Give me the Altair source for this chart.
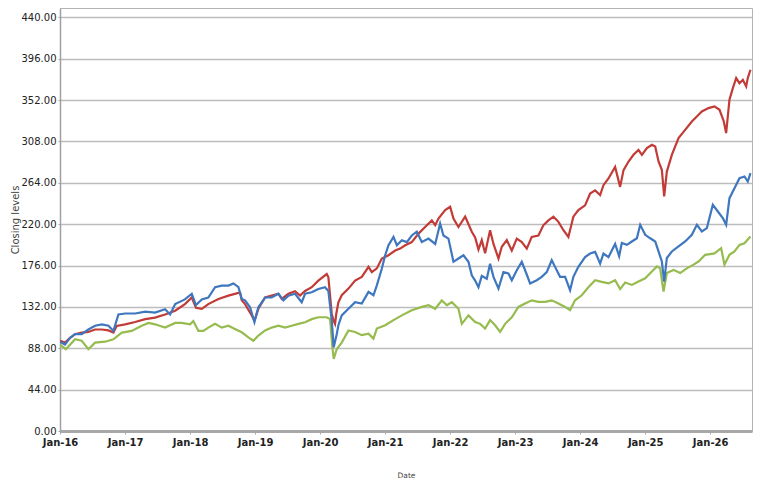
import altair as alt
import pandas as pd

# ---- data (decimal year, closing level) ----
red_t = [2016.0, 2016.077, 2016.154, 2016.231, 2016.333, 2016.436, 2016.538, 2016.641, 2016.744, 2016.82,
         2016.87, 2017.0, 2017.154, 2017.31, 2017.46, 2017.615, 2017.77, 2017.92, 2018.026, 2018.09,
         2018.18, 2018.28, 2018.436, 2018.59, 2018.744, 2018.77, 2018.795, 2018.846, 2018.949, 2018.99,
         2019.051, 2019.154, 2019.256, 2019.359, 2019.41, 2019.513, 2019.615, 2019.692, 2019.77, 2019.872,
         2019.974, 2020.103, 2020.128, 2020.18, 2020.205, 2020.23, 2020.25, 2020.282, 2020.333, 2020.436,
         2020.538, 2020.641, 2020.744, 2020.795, 2020.872, 2020.949, 2021.051, 2021.154, 2021.231, 2021.308,
         2021.41, 2021.513, 2021.615, 2021.718, 2021.77, 2021.82, 2021.923, 2022.0, 2022.051, 2022.128,
         2022.231, 2022.333, 2022.385, 2022.436, 2022.487, 2022.538, 2022.615, 2022.667, 2022.744, 2022.795,
         2022.872, 2022.949, 2023.026, 2023.103, 2023.18, 2023.256, 2023.359, 2023.436, 2023.513, 2023.59,
         2023.667, 2023.744, 2023.82, 2023.897, 2023.974, 2024.077, 2024.154, 2024.231, 2024.308, 2024.359,
         2024.436, 2024.538, 2024.615, 2024.667, 2024.744, 2024.82, 2024.897, 2024.949, 2025.026, 2025.103,
         2025.154, 2025.205, 2025.256, 2025.292, 2025.333, 2025.41, 2025.513, 2025.615, 2025.718, 2025.795,
         2025.872, 2025.974, 2026.067, 2026.144, 2026.21, 2026.246, 2026.297, 2026.349, 2026.4, 2026.451,
         2026.503, 2026.554, 2026.579, 2026.62]
red_v = [96, 94, 99, 103, 104.7, 105.4, 108, 108, 107, 104.7,
         111.8, 113.5, 116, 119, 120.6, 124, 128, 135, 142, 131,
         130, 135, 140.5, 144, 147, 147, 139, 135, 123, 117.5,
         130, 142, 144, 146, 140.5, 146, 148.7, 144, 149, 153,
         160, 167, 163.6, 124.5, 118, 114, 125, 137, 144.4, 151.5,
         160, 164, 174.6, 169, 173, 183.5, 187, 192, 194, 197.6,
         201, 210, 217, 224, 219, 226, 235, 238.5, 226, 217,
         228, 212, 206, 193, 203, 189, 213.6, 199, 183.5, 196,
         203, 192, 204.7, 201, 194, 206.5, 208, 219, 224, 228,
         222.5, 213.6, 206.5, 228, 235, 240, 252.6, 256, 251, 261.5,
         268.6, 281, 259.7, 277.5, 286.7, 293.8, 299, 293.8, 301, 304.5,
         302.7, 286.7, 277.8, 249.5, 276, 293.8, 311.6, 320.4, 329.3, 334.6,
         340, 343.5, 345.3, 341.7, 329.3, 317, 352.4, 364.8, 375.4, 370,
         373.6, 366.6, 375.4, 384.3]

blue_t = [2016.0, 2016.077, 2016.154, 2016.231, 2016.333, 2016.436, 2016.538, 2016.641, 2016.744, 2016.82,
          2016.897, 2017.0, 2017.154, 2017.31, 2017.46, 2017.615, 2017.692, 2017.77, 2017.92, 2018.026,
          2018.09, 2018.18, 2018.28, 2018.385, 2018.487, 2018.59, 2018.667, 2018.744, 2018.795, 2018.846,
          2018.923, 2018.99, 2019.051, 2019.154, 2019.256, 2019.359, 2019.436, 2019.513, 2019.615, 2019.718,
          2019.77, 2019.872, 2019.974, 2020.077, 2020.128, 2020.18, 2020.21, 2020.256, 2020.282, 2020.333,
          2020.436, 2020.538, 2020.641, 2020.744, 2020.82, 2020.872, 2020.949, 2021.0, 2021.051, 2021.128,
          2021.18, 2021.256, 2021.333, 2021.41, 2021.487, 2021.564, 2021.667, 2021.77, 2021.846, 2021.897,
          2021.974, 2022.051, 2022.128, 2022.205, 2022.282, 2022.333, 2022.385, 2022.436, 2022.487, 2022.564,
          2022.615, 2022.667, 2022.744, 2022.82, 2022.897, 2022.949, 2023.026, 2023.103, 2023.154, 2023.231,
          2023.333, 2023.41, 2023.487, 2023.564, 2023.615, 2023.692, 2023.77, 2023.846, 2023.897, 2023.974,
          2024.077, 2024.154, 2024.231, 2024.308, 2024.359, 2024.436, 2024.538, 2024.6, 2024.641, 2024.718,
          2024.795, 2024.872, 2024.923, 2025.0, 2025.077, 2025.154, 2025.205, 2025.256, 2025.292, 2025.333,
          2025.41, 2025.513, 2025.615, 2025.718, 2025.795, 2025.872, 2025.949, 2026.041, 2026.118, 2026.195,
          2026.246, 2026.297, 2026.374, 2026.451, 2026.528, 2026.579, 2026.62]
blue_v = [95, 92, 99, 103, 103, 108, 112, 113.5, 112, 106.5,
          124, 125, 125, 127, 126, 129.5, 124, 135, 140, 146,
          134, 140, 142, 153, 154.7, 154.7, 157, 153, 140.5, 139,
          131.6, 115.7, 131.6, 142, 142, 146, 139, 144, 146, 137,
          146, 147.6, 151, 153, 149, 117.5, 89, 103, 112.5, 123,
          130, 137, 135.5, 148, 144.4, 155, 172.8, 187, 197.6, 206.5,
          197.6, 203, 201, 208, 212, 201, 204.7, 199, 220.7, 208,
          204.7, 180, 183.5, 187, 180, 165.7, 160, 153, 165, 162,
          178, 164, 151.5, 169, 167.5, 160.4, 171, 180, 171, 157,
          160.4, 164, 169, 181.7, 174.6, 164, 164, 149.8, 164, 174.6,
          185, 188.8, 190.6, 178, 188.8, 185, 199, 186, 200, 198,
          201.6, 205, 219.3, 208.7, 205, 201.6, 191, 180.3, 159, 184,
          191, 196.3, 201.6, 208.7, 219.3, 212.2, 215.8, 240.6, 233.5, 226.4,
          219.3, 247.7, 258.3, 269, 270.8, 265.4, 274.3]

green_t = [2016.0, 2016.09, 2016.231, 2016.333, 2016.436, 2016.538, 2016.692, 2016.82, 2016.949, 2017.1,
           2017.256, 2017.36, 2017.46, 2017.615, 2017.77, 2017.87, 2018.0, 2018.05, 2018.128, 2018.205,
           2018.28, 2018.385, 2018.487, 2018.59, 2018.69, 2018.795, 2018.897, 2018.974, 2019.051, 2019.154,
           2019.256, 2019.359, 2019.462, 2019.564, 2019.667, 2019.77, 2019.872, 2019.974, 2020.103, 2020.154,
           2020.19, 2020.21, 2020.256, 2020.333, 2020.436, 2020.538, 2020.641, 2020.744, 2020.82, 2020.872,
           2021.0, 2021.128, 2021.256, 2021.41, 2021.564, 2021.667, 2021.77, 2021.872, 2021.949, 2022.026,
           2022.128, 2022.18, 2022.282, 2022.385, 2022.462, 2022.538, 2022.615, 2022.692, 2022.77, 2022.846,
           2022.949, 2023.051, 2023.154, 2023.256, 2023.359, 2023.462, 2023.564, 2023.667, 2023.77, 2023.846,
           2023.923, 2024.026, 2024.128, 2024.231, 2024.333, 2024.436, 2024.538, 2024.615, 2024.692, 2024.795,
           2024.897, 2025.0, 2025.103, 2025.18, 2025.23, 2025.282, 2025.333, 2025.436, 2025.538, 2025.64,
           2025.744, 2025.82, 2025.923, 2026.067, 2026.169, 2026.22, 2026.297, 2026.374, 2026.451, 2026.528,
           2026.62]
green_v = [92, 87, 97.6, 96, 87, 94, 95, 97.6, 104.7, 106.5,
           112, 115, 113.5, 110, 115, 115, 113.5, 117, 106.5, 106.5,
           110, 114, 110, 112, 108.6, 105, 99.7, 96, 101.5, 107,
           110, 112, 110, 112, 114, 115.7, 119, 121, 121, 119,
           89, 76.6, 87, 94, 107, 105.4, 102, 103.6, 98.3, 109,
           112.5, 118, 123, 128.5, 132, 133.8, 130, 139, 133.8, 137,
           130, 114, 123, 116, 114, 109, 118, 112.5, 105.4, 114,
           121, 132, 135.6, 139, 137.3, 137.3, 139, 135.6, 132, 128.5,
           139, 144.4, 153, 160.4, 158.6, 157, 160.4, 151, 158, 155.4,
           159, 162.5, 169.6, 175, 173, 148.4, 168, 171.4, 168, 173,
           177, 180.3, 187.4, 189, 194.5, 177, 187.4, 191, 198, 199.8,
           206.9]

series_names = ["Series 1", "Series 2", "Series 3"]
series_colors = ["#C23B36", "#3F77BF", "#96BB4E"]
y_ticks = [0, 44, 88, 132, 176, 220, 264, 308, 352, 396, 440]
x_tick_years = list(range(2016, 2027))


def to_date(y):
    yr = int(y)
    start = pd.Timestamp(yr, 1, 1)
    end = pd.Timestamp(yr + 1, 1, 1)
    return start + (end - start) * (y - yr)


def frame(name, ts, vs):
    return pd.DataFrame({
        "series": name,
        "date": [to_date(t).strftime("%Y-%m-%dT%H:%M:%S") for t in ts],
        "value": vs,
    })


x_scale = alt.Scale(
    domain=[alt.DateTime(year=2016, month=1, date=1), alt.DateTime(year=2026, month=8, date=24)],
    nice=False,
)
y_scale = alt.Scale(domain=[0, 450], nice=False, zero=True)
color_scale = alt.Scale(domain=series_names, range=series_colors)

x_axis = alt.Axis(
    title="Date",
    format="%b-%y",
    values=[alt.DateTime(year=y, month=1, date=1) for y in x_tick_years],
    grid=False,
    labelFont="DejaVu Sans",
    labelFontSize=10,
    labelFontWeight="bold",
    labelColor="#222222",
    labelPadding=3,
    labelFlush=False,
    labelBound=False,
    tickSize=3,
    tickColor="#a8a8a8",
    domainColor="#a8a8a8",
    domainWidth=3,
    titleFont="DejaVu Sans",
    titleFontSize=7.5,
    titleFontWeight="normal",
    titleColor="#444444",
    titlePadding=24,
    labelOverlap=False,
)
y_axis = alt.Axis(
    title="Closing levels",
    format=".2f",
    values=y_ticks,
    grid=True,
    gridColor="#bcbcbc",
    gridWidth=1.3,
    labelFont="DejaVu Sans",
    labelFontSize=10,
    labelColor="#222222",
    labelPadding=2,
    labelFlush=False,
    tickSize=2,
    tickColor="#a8a8a8",
    domainColor="#a0a0a0",
    domainWidth=1.5,
    titleFont="DejaVu Sans",
    titleFontSize=10,
    titleFontWeight="normal",
    titleColor="#444444",
    titlePadding=1,
)

layers = []
for name, ts, vs in [(series_names[0], red_t, red_v),
                     (series_names[2], green_t, green_v),
                     (series_names[1], blue_t, blue_v)]:
    df = frame(name, ts, vs)
    layers.append(
        alt.Chart(df).mark_line(strokeWidth=2.2, clip=True).encode(
            x=alt.X("date:T", scale=x_scale, axis=x_axis),
            y=alt.Y("value:Q", scale=y_scale, axis=y_axis),
            color=alt.Color("series:N", scale=color_scale, legend=None),
        )
    )

chart = alt.layer(*layers).properties(
    width=692,
    height=423,
    autosize=alt.AutoSizeParams(type="none"),
    padding={"left": 52, "top": 0, "right": 9, "bottom": 50},
    background="white",
).configure_view(
    stroke="#b4b4b4",
    strokeWidth=1,
)

chart.save("out.html", embed_options={"renderer": "svg", "actions": False})
